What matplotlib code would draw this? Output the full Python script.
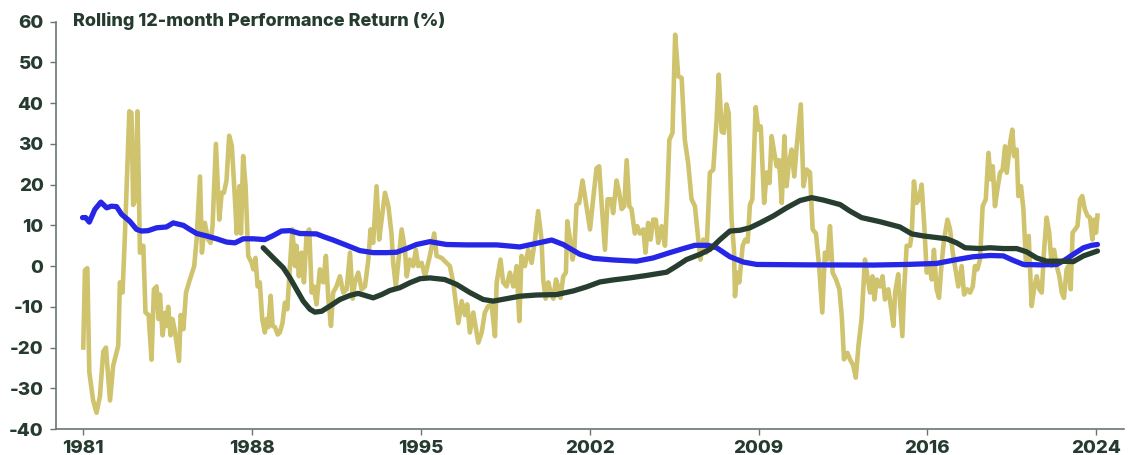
import matplotlib
matplotlib.use("Agg")
import matplotlib.pyplot as plt

# ---- data (x in decimal-year positions of the chart's date axis) ----
gold_x = [1981.00,1981.07,1981.17,1981.25,1981.41,1981.55,1981.69,1981.83,1981.94,1982.00,
          1982.11,1982.24,1982.45,1982.52,1982.63,1982.73,1982.91,1983.00,1983.07,1983.14,
          1983.25,1983.35,1983.49,1983.58,1983.71,1983.83,1983.93,1984.04,1984.12,1984.18,
          1984.29,1984.39,1984.45,1984.52,1984.62,1984.70,1984.80,1984.97,1985.04,1985.15,
          1985.26,1985.42,1985.60,1985.70,1985.84,1985.92,1986.04,1986.18,1986.28,1986.36,
          1986.50,1986.64,1986.74,1986.83,1986.94,1987.05,1987.16,1987.29,1987.36,1987.47,
          1987.54,1987.63,1987.73,1987.84,1987.98,1988.05,1988.14,1988.23,1988.32,1988.42,
          1988.53,1988.60,1988.67,1988.77,1988.85,1988.95,1989.06,1989.15,1989.26,1989.36,
          1989.46,1989.57,1989.67,1989.78,1989.84,1989.94,1990.05,1990.15,1990.26,1990.37,
          1990.47,1990.56,1990.67,1990.81,1990.95,1991.06,1991.16,1991.27,1991.36,1991.50,
          1991.64,1991.78,1991.92,1992.06,1992.17,1992.26,1992.40,1992.54,1992.68,1992.82,
          1992.91,1993.02,1993.16,1993.27,1993.37,1993.51,1993.65,1993.78,1993.85,1993.96,
          1994.20,1994.34,1994.41,1994.54,1994.68,1994.79,1994.89,1995.03,1995.17,1995.37,
          1995.55,1995.65,1995.86,1996.06,1996.20,1996.34,1996.55,1996.69,1996.82,1996.92,
          1997.03,1997.17,1997.38,1997.52,1997.65,1997.79,1997.93,1998.07,1998.14,1998.30,
          1998.41,1998.55,1998.69,1998.83,1998.97,1999.08,1999.17,1999.31,1999.45,1999.59,
          1999.73,1999.86,2000.00,2000.07,2000.17,2000.28,2000.38,2000.49,2000.60,2000.69,
          2000.79,2000.90,2001.01,2001.07,2001.18,2001.29,2001.36,2001.45,2001.56,2001.70,
          2001.84,2002.01,2002.14,2002.28,2002.39,2002.49,2002.63,2002.74,2002.88,2002.97,
          2003.11,2003.22,2003.32,2003.43,2003.53,2003.64,2003.73,2003.87,2003.97,2004.08,
          2004.22,2004.31,2004.42,2004.52,2004.63,2004.74,2004.84,2004.98,2005.12,2005.21,
          2005.30,2005.43,2005.54,2005.67,2005.81,2005.94,2006.08,2006.22,2006.36,2006.50,
          2006.59,2006.71,2006.84,2006.98,2007.12,2007.26,2007.35,2007.47,2007.56,2007.67,
          2007.76,2007.88,2007.98,2008.02,2008.11,2008.20,2008.34,2008.45,2008.55,2008.64,
          2008.74,2008.88,2008.99,2009.09,2009.23,2009.34,2009.45,2009.54,2009.65,2009.75,
          2009.85,2009.96,2010.07,2010.16,2010.26,2010.37,2010.48,2010.58,2010.75,2010.86,
          2010.99,2011.13,2011.24,2011.38,2011.51,2011.64,2011.75,2011.85,2011.96,2012.07,
          2012.21,2012.35,2012.45,2012.54,2012.68,2012.79,2012.93,2013.03,2013.14,2013.27,
          2013.41,2013.51,2013.62,2013.72,2013.80,2013.90,2014.03,2014.14,2014.24,2014.38,
          2014.48,2014.59,2014.66,2014.79,2014.96,2015.04,2015.14,2015.28,2015.35,2015.44,
          2015.55,2015.65,2015.76,2015.87,2015.97,2016.08,2016.18,2016.27,2016.38,2016.48,
          2016.59,2016.69,2016.83,2016.94,2017.05,2017.14,2017.28,2017.42,2017.52,2017.65,
          2017.77,2017.88,2017.97,2018.07,2018.18,2018.29,2018.42,2018.53,2018.62,2018.71,
          2018.80,2018.90,2019.01,2019.12,2019.22,2019.29,2019.43,2019.52,2019.59,2019.70,
          2019.77,2019.88,2019.98,2020.09,2020.20,2020.32,2020.42,2020.53,2020.64,2020.74,
          2020.83,2020.94,2021.05,2021.15,2021.25,2021.36,2021.47,2021.57,2021.66,2021.77,
          2021.84,2021.94,2022.02,2022.12,2022.22,2022.33,2022.42,2022.53,2022.64,2022.74,
          2022.84,2022.92,2022.99,2023.05]
gold_y = [-20,-1,-0.5,-26,-33,-36,-32,-21,-20,-24.5,
          -33,-24.5,-19.6,-4,-6.5,8,38,37.6,15,16,
          38,3.3,5,-11.4,-12,-23,-5.7,-5,-13,-7,
          -17,-11.5,-14.7,-10,-17,-13,-16,-23.3,-12,-15.5,
          -6.5,-3.3,0,6.5,22,3.3,10.6,6.5,5.7,9.8,
          30,11.4,18,18,21,32,29.5,16.3,8,19.6,
          8,27,19.6,2.5,0.8,-0.8,2,-5,-4,-13,
          -16.3,-13,-15,-7.3,-14.7,-15,-16.8,-16.3,-14,-9,
          -10.6,0,9,0,5,-2.5,3.3,-4,8,9,
          -6.5,-5,-9.4,-0.8,-4,2.5,-8,-14.7,-6.5,-5,
          -2.5,-6.5,-5.7,3.3,-8,-4,-1.6,-5.7,-5,1.6,
          9,5.7,19.6,6.5,11.4,18,14.7,8,0.8,-5,
          9,4,-2.5,1.6,0,4,0,0.8,-2.5,2.5,
          8,2.5,2,0.8,0,-4,-14,-8.6,-12,-9.4,
          -16.3,-11.4,-18.8,-16.3,-11.4,-9.8,-9.4,-17.2,-4,1.6,
          -4,-5,-1.6,-5,0,-13.5,2.5,0,4,0.8,
          6.5,13.5,6.5,-3.3,-8,-4,-6.5,-8,-3.3,-5,
          -7.8,-2.5,-1.6,11,6.5,1.6,4,15,15.5,21,
          15.5,9,16.4,24,24.5,15.5,4,16.4,16.4,13,
          21,18,14,14.7,26,14.7,14,8,9.8,8,
          9,3.3,10.6,6.5,11.4,11.4,5.7,9.8,5,16.4,
          31,32.7,56.8,46.6,46.2,31,25.3,16.4,14.7,6.5,
          1.6,6.5,3.3,22.9,23.7,36,47,33,32.7,39.7,
          37.6,11.4,4,-7.4,-1.6,-4,5,6.5,6,15,
          16.4,39,33.5,34.3,15.5,23,20.4,31.9,27.8,24.5,
          26,15.5,31.9,19.6,25.3,28.6,22,29.4,39.7,19.6,
          23.7,23,9,8,0,-11.4,3.3,1.6,9.8,-1.6,
          -3.3,-5.7,-12.3,-22.9,-21.3,-22.9,-24.5,-27.4,-19.6,-13,
          1.6,-2.5,-6.5,-2.5,-8.2,-3.3,-5,-2.5,-8.2,-5.7,
          -9.8,-14.7,-6.5,-2,-17.2,-5,5,5,8,20.8,
          15.5,16.4,20,9.8,-1.6,0,-3.3,4,-5.7,-7.8,
          0.8,6.5,11.4,9,3.3,0,-5,0,-7,-5.7,
          -6.5,-5,0,-0.8,1.6,14.7,16.4,27.8,21.3,24.5,
          14.7,18.8,22.9,23.7,29.4,22.9,30.3,33.5,27,28.6,
          17.2,19.6,13.9,0,7.4,-9.8,-5.7,-2.5,-5.7,-6.5,
          3.3,11.9,8.2,0,4,0,-2.5,-6.5,-7.8,-0.8,
          0,-5.7,8.2,9,9.8,16.4,17.2,13.9,12.3,11.9,
          6.5,11.4,8.2,12.4]

blue_x = [1980.97,1981.10,1981.25,1981.48,1981.73,1981.97,1982.17,1982.38,1982.59,1982.93,
          1983.21,1983.42,1983.69,1984.04,1984.45,1984.73,1985.15,1985.42,1985.70,1986.11,
          1986.53,1986.94,1987.29,1987.63,1988.05,1988.53,1988.88,1989.22,1989.57,1989.98,
          1990.67,1991.02,1991.36,1991.92,1992.47,1993.02,1993.58,1993.99,1994.41,1994.82,
          1995.37,1996.06,1996.89,1998.14,1999.10,1999.80,2000.42,2000.90,2001.59,2002.14,
          2002.97,2003.94,2004.63,2005.32,2005.88,2006.36,2006.91,2007.26,2007.81,2008.36,
          2008.92,2010.99,2013.76,2015.14,2016.38,2017.21,2017.90,2018.59,2019.15,2019.56,
          2019.98,2020.67,2021.36,2021.70,2022.05,2022.47,2022.81,2023.05]
blue_y = [11.9,11.9,10.8,13.9,15.7,14.3,14.7,14.6,12.7,11.0,
          9.0,8.6,8.7,9.4,9.6,10.6,10.0,9.0,8.0,7.4,
          6.7,5.9,5.7,6.7,6.7,6.5,7.5,8.6,8.7,8.0,
          7.9,7.1,6.4,5.1,3.8,3.3,3.3,3.4,4.3,5.3,
          6.0,5.3,5.2,5.2,4.7,5.6,6.4,5.3,2.9,1.9,
          1.5,1.2,2.0,3.3,4.3,5.1,5.1,4.5,2.3,1.0,
          0.4,0.3,0.25,0.4,0.65,1.6,2.3,2.6,2.5,1.4,
          0.4,0.3,0.4,1.5,2.9,4.5,5.1,5.3]

green_x = [1988.46,1988.88,1989.29,1989.57,1989.84,1990.12,1990.40,1990.60,1990.88,1991.23,
           1991.64,1992.06,1992.40,1992.68,1993.02,1993.37,1993.71,1994.13,1994.54,1994.96,
           1995.37,1995.99,1996.48,1997.03,1997.58,1998.00,1998.55,1999.10,1999.80,2000.62,
           2001.32,2001.87,2002.42,2002.97,2003.66,2004.36,2005.19,2005.60,2006.01,2006.57,
           2006.98,2007.40,2007.81,2008.23,2008.64,2009.06,2009.61,2010.16,2010.72,2011.20,
           2011.69,2012.38,2012.79,2013.27,2014.03,2014.86,2015.35,2015.83,2016.80,2017.21,
           2017.56,2018.18,2018.59,2019.15,2019.70,2020.11,2020.53,2020.94,2021.50,2022.05,
           2022.47,2023.05]
green_y = [4.5,2.0,-0.4,-2.9,-5.7,-8.6,-10.6,-11.3,-11.1,-9.8,
           -8.2,-7.2,-6.7,-7.2,-7.8,-7.0,-6.0,-5.3,-4.1,-3.1,
           -2.9,-3.3,-4.5,-6.5,-8.2,-8.6,-8.0,-7.4,-7.1,-7.0,
           -6.1,-5.1,-3.9,-3.4,-2.9,-2.3,-1.5,0.0,1.6,2.9,
           4.1,6.5,8.6,8.8,9.4,10.6,12.3,14.3,16.1,16.8,
           16.2,15.1,13.5,11.9,10.9,9.6,7.9,7.4,6.7,5.7,
           4.5,4.3,4.5,4.3,4.3,3.5,2.0,1.2,1.2,1.1,
           2.5,3.7]

tick_pos = [1981, 1988, 1995, 2002, 2009, 2016, 2023]
tick_labels = ["1981", "1988", "1995", "2002", "2009", "2016", "2024"]
y_ticks = [-40, -30, -20, -10, 0, 10, 20, 30, 40, 50, 60]
title = "Rolling 12-month Performance Return (%)"

# ---- style ----
TEXT = "#263b2f"
GOLD = "#cfc36e"
BLUE = "#2626e6"
GREEN = "#263d2f"
AXIS = "#6b7570"
FONT = "Inter"

fig = plt.figure(figsize=(11.33, 4.55), dpi=100)
ax = fig.add_axes([56/1133, 1 - 429/455, (1124 - 56)/1133, (429 - 21.7)/455])

ax.plot(gold_x, gold_y, color=GOLD, lw=3.3, solid_joinstyle="round", zorder=2)
ax.plot(blue_x, blue_y, color=BLUE, lw=3.8, solid_joinstyle="round", solid_capstyle="round", zorder=3)
ax.plot(green_x, green_y, color=GREEN, lw=3.8, solid_joinstyle="round", solid_capstyle="round", zorder=4)

ax.set_xlim(1979.87, 2024.15)
ax.set_ylim(-40, 60)
ax.set_xticks(tick_pos)
ax.set_xticklabels(tick_labels)
ax.set_yticks(y_ticks)
ax.set_yticklabels([str(v) for v in y_ticks])

for s in ["top", "right"]:
    ax.spines[s].set_visible(False)
for s in ["left", "bottom"]:
    ax.spines[s].set_color(AXIS)
    ax.spines[s].set_linewidth(1.2)

ax.tick_params(axis="both", colors=AXIS, length=4, width=1.0)
ax.tick_params(axis="y", pad=5)
ax.tick_params(axis="x", pad=4)
for lab in ax.get_xticklabels() + ax.get_yticklabels():
    lab.set_color(TEXT)
    lab.set_fontfamily(FONT)
    lab.set_fontweight(800)
    lab.set_fontsize(13.5)

fig.text(73/1133, 1 - 21/455, title, ha="left", va="center", color=TEXT,
         fontfamily=FONT, fontweight=800, fontsize=13)

fig.savefig("out.png", dpi=100, facecolor="white")
